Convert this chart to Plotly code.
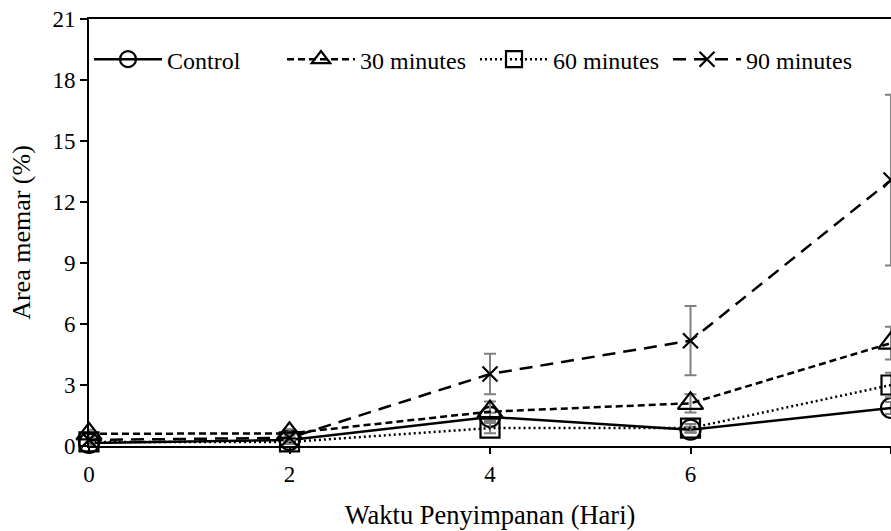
import plotly.graph_objects as go

days = [0, 2, 4, 6, 8]
control = [0.15, 0.3, 1.43, 0.8, 1.87]
control_err = [0.1, 0.1, 0.2, 0.15, 0.3]
m30 = [0.6, 0.62, 1.69, 2.1, 5.06]
m30_err = [0.2, 0.2, 0.5, 0.45, 0.8]
m60 = [0.2, 0.2, 0.88, 0.88, 3.0]
m60_err = [0.1, 0.1, 0.25, 0.2, 0.6]
m90 = [0.3, 0.4, 3.54, 5.18, 13.08]
m90_err = [0.1, 0.15, 1.0, 1.7, 4.2]

names = ["Control", "30 minutes", "60 minutes", "90 minutes"]
series = [control, m30, m60, m90]
errors = [control_err, m30_err, m60_err, m90_err]
dashes = ["solid", "7px,4px", "2px,3px", "13px,8px"]
symbols = ["circle-open", "triangle-up-open", "square-open", "x-thin-open"]
msizes = [20, 22, 19, 15]

FONT = "Liberation Serif"

fig = go.Figure()
for name, y, err, dash, sym, ms in zip(names, series, errors, dashes, symbols, msizes):
    fig.add_trace(go.Scatter(
        x=days, y=y, name=name, mode="lines+markers",
        line=dict(color="black", width=2.5, dash=dash),
        marker=dict(symbol=sym, size=ms, color="black", line=dict(width=2.2, color="black")),
        error_y=dict(type="data", array=err, visible=True, color="#808080", thickness=2, width=6),
        cliponaxis=False,
    ))

fig.update_layout(
    template="none",
    width=891, height=531,
    margin=dict(l=89, r=0, t=19, b=85),
    paper_bgcolor="white", plot_bgcolor="white",
    font=dict(family=FONT, size=23, color="black"),
    showlegend=True,
    legend=dict(orientation="h", x=0.0, y=0.905, xanchor="left", yanchor="middle",
                bgcolor="rgba(0,0,0,0)", font=dict(family=FONT, size=24, color="black"),
                entrywidth=110, entrywidthmode="pixels", itemwidth=68),
    xaxis=dict(range=[0, 8], tickvals=[0, 2, 4, 6, 8], showgrid=False, zeroline=False,
               showline=True, linecolor="black", linewidth=2, mirror=True,
               ticks="outside", ticklen=6, tickwidth=1.5, tickcolor="black",
               tickfont=dict(family=FONT, size=23, color="black"),
               title=dict(text="Waktu Penyimpanan (Hari)", font=dict(family=FONT, size=26.5, color="black"), standoff=20)),
    yaxis=dict(range=[0, 21], tickvals=[0, 3, 6, 9, 12, 15, 18, 21], showgrid=False, zeroline=False,
               showline=True, linecolor="black", linewidth=2,
               ticks="outside", ticklen=7, tickwidth=1.5, tickcolor="black",
               tickfont=dict(family=FONT, size=23, color="black"),
               title=dict(text="Area memar (%)", font=dict(family=FONT, size=26, color="black"), standoff=14)),
)

fig.write_html("out.html")
